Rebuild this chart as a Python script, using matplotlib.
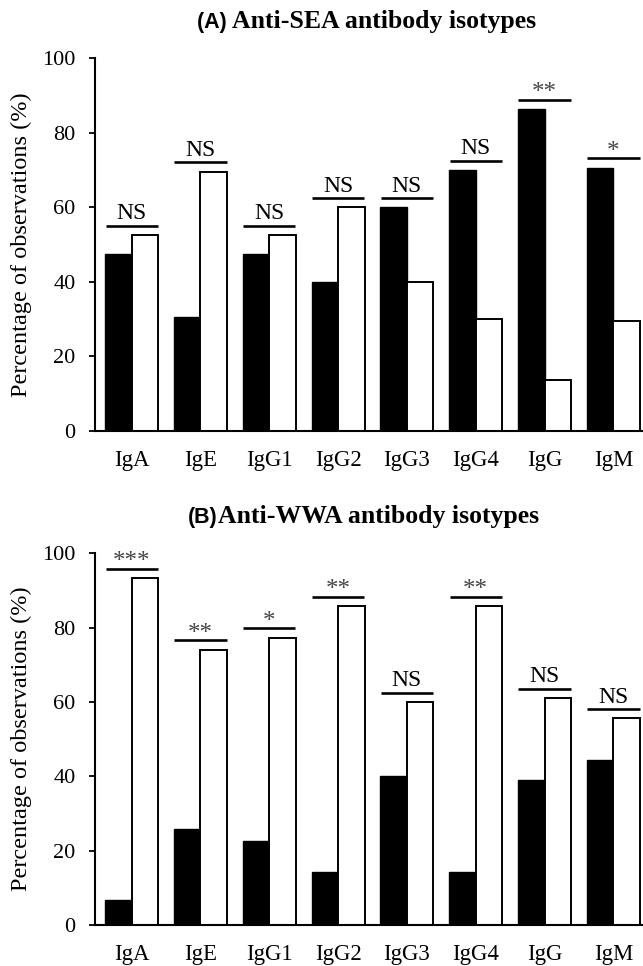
import numpy as np
import matplotlib
matplotlib.use("Agg")
import matplotlib.pyplot as plt

plt.rcParams['font.family'] = ['Liberation Serif', 'DejaVu Serif']

isotypes = ['IgA', 'IgE', 'IgG1', 'IgG2', 'IgG3', 'IgG4', 'IgG', 'IgM']

# panel A: anti-SEA (black = first group, white = second group)
sea_black = [47.4, 30.4, 47.4, 40.0, 60.0, 70.0, 86.4, 70.6]
sea_white = [52.6, 69.6, 52.6, 60.0, 40.0, 30.0, 13.6, 29.4]
sea_sig = ['NS', 'NS', 'NS', 'NS', 'NS', 'NS', '**', '*']

# panel B: anti-WWA
wwa_black = [6.7, 25.9, 22.7, 14.3, 40.0, 14.3, 38.9, 44.4]
wwa_white = [93.3, 74.1, 77.3, 85.7, 60.0, 85.7, 61.1, 55.6]
wwa_sig = ['***', '**', '*', '**', 'NS', '**', 'NS', 'NS']

W, H = 643, 966
fig = plt.figure(figsize=(W / 100, H / 100), dpi=100)


def draw_panel(rect, black, white, sig, label, title, title_x, title_y):
    ax = fig.add_axes(rect)
    x = np.arange(len(isotypes))
    bw = 0.385
    ax.bar(x - bw / 2, black, bw, color='black', edgecolor='black', linewidth=1.0)
    ax.bar(x + bw / 2, white, bw, color='white', edgecolor='black', linewidth=1.4)

    for i in range(len(isotypes)):
        top = max(black[i], white[i]) + 2.5
        ax.plot([x[i] - 0.38, x[i] + 0.38], [top, top], color='black', lw=1.9,
                solid_capstyle='butt')
        if sig[i] == 'NS':
            ax.annotate('NS', (x[i], top), xytext=(0, 4.5), textcoords='offset points',
                        ha='center', va='baseline', fontsize=17)
        else:
            ax.annotate(sig[i], (x[i], top), xytext=(0, 0.5), textcoords='offset points',
                        ha='center', va='baseline', fontsize=18, color='#444444')

    ax.set_xlim(-0.533, 7.43)
    ax.set_ylim(0, 100)
    ax.set_yticks([0, 20, 40, 60, 80, 100])
    ax.set_xticks(x)
    ax.set_xticklabels(isotypes)
    ax.tick_params(axis='x', length=0, pad=14, labelsize=16.5)
    ax.tick_params(axis='y', length=4, width=1.3, direction='out', pad=10, labelsize=16)
    for s in ['top', 'right']:
        ax.spines[s].set_visible(False)
    for s in ['left', 'bottom']:
        ax.spines[s].set_linewidth(1.5)
    ax.set_ylabel('Percentage of observations (%)', fontsize=17.5, labelpad=7)

    # title: sans-serif panel letter followed by serif bold text
    t1 = fig.text(title_x / W, 1 - title_y / H, label, family='Liberation Sans',
                  fontweight='bold', fontsize=15.5, ha='left', va='baseline')
    fig.canvas.draw()
    w1 = t1.get_window_extent().width / W
    fig.text(title_x / W + w1, 1 - title_y / H, title, fontweight='bold',
             fontsize=18.5, ha='left', va='baseline')
    return ax


draw_panel([95 / W, 1 - 430.7 / H, (W - 95) / W, (430.7 - 58.3) / H],
           sea_black, sea_white, sea_sig, '(A) ', 'Anti-SEA antibody isotypes', 196.7, 28.3)
draw_panel([95 / W, 1 - 925 / H, (W - 95) / W, (925 - 553.3) / H],
           wwa_black, wwa_white, wwa_sig, '(B)', 'Anti-WWA antibody isotypes', 188.3, 523.3)

fig.savefig('out.png', dpi=100)
